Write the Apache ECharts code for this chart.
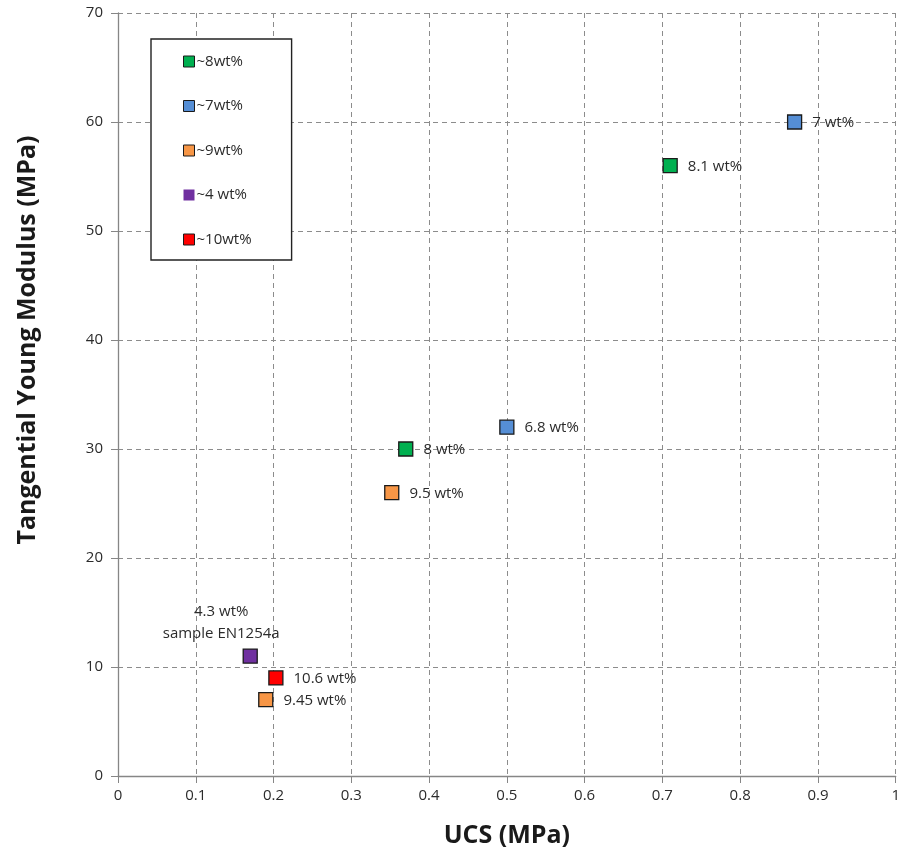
<!DOCTYPE html>
<html>
<head>
<meta charset="utf-8">
<script src="https://cdn.jsdelivr.net/npm/echarts@6/dist/echarts.min.js"></script>
<style>
  html, body { margin: 0; padding: 0; background: #fff; }
  #chart { width: 903px; height: 854px; }
</style>
</head>
<body>
<div id="chart"></div>
<script>
// UCS (MPa) vs tangential Young modulus (MPa), grouped by moisture class
const groupNames = ['~8wt%', '~7wt%', '~9wt%', '~4 wt%', '~10wt%'];
const groupColors = ['#00B050', '#558ED5', '#F79646', '#7030A0', '#FF0000'];

const ucs8 = [0.71, 0.37];
const modulus8 = [56, 30];
const labels8 = ['8.1 wt%', '8 wt%'];

const ucs7 = [0.87, 0.50];
const modulus7 = [60, 32];
const labels7 = ['7 wt%', '6.8 wt%'];

const ucs9 = [0.352, 0.19];
const modulus9 = [26, 7];
const labels9 = ['9.5 wt%', '9.45 wt%'];

const ucs4 = [0.17];
const modulus4 = [11];
const labels4 = ['4.3 wt%\nsample EN1254a'];

const ucs10 = [0.203];
const modulus10 = [9];
const labels10 = ['10.6 wt%'];

const xTicks = ['0', '0.1', '0.2', '0.3', '0.4', '0.5', '0.6', '0.7', '0.8', '0.9', '1'];

const FONT = 'Open Sans';
const TEXT = '#2b2b2b';
const groups = [
  [ucs8, modulus8, labels8],
  [ucs7, modulus7, labels7],
  [ucs9, modulus9, labels9],
  [ucs4, modulus4, labels4],
  [ucs10, modulus10, labels10]
];

const series = groups.map(function (g, i) {
  const isPurple = i === 3;
  return {
    name: groupNames[i],
    type: 'scatter',
    symbol: 'rect',
    symbolSize: 14,
    itemStyle: {
      color: groupColors[i],
      opacity: 1,
      borderColor: '#1a1a1a',
      borderWidth: 1.3
    },
    emphasis: { disabled: true },
    label: {
      show: true,
      position: isPurple ? 'top' : 'right',
      distance: isPurple ? 4 : 10,
      offset: isPurple ? [-29, 0] : [0, 1],
      align: isPurple ? 'center' : 'left',
      color: TEXT,
      fontFamily: FONT,
      fontSize: 15,
      lineHeight: 22,
      formatter: function (p) { return p.data.label; }
    },
    data: g[0].map(function (x, k) {
      return { value: [x, g[1][k]], label: g[2][k] };
    })
  };
});

const chart = echarts.init(document.getElementById('chart'), null, { renderer: 'canvas' });
chart.setOption({
  animation: false,
  backgroundColor: '#fff',
  grid: { left: 118, right: 7, top: 13, bottom: 78, containLabel: false },
  legend: {
    orient: 'vertical',
    left: 151,
    top: 39,
    padding: [15, 40, 13, 32],
    itemGap: 29.5,
    itemWidth: 11,
    itemHeight: 11,
    selectedMode: false,
    borderColor: '#222',
    borderWidth: 1.4,
    backgroundColor: '#fff',
    textStyle: { fontFamily: FONT, fontSize: 15, lineHeight: 14, color: TEXT, padding: [0, 0, 0, -3] },
    data: groupNames.map(function (n, i) {
      return {
        name: n,
        icon: 'rect',
        itemStyle: i === 3 ? { borderWidth: 0 } : { borderColor: '#1a1a1a', borderWidth: 1 }
      };
    })
  },
  xAxis: {
    type: 'value',
    min: 0,
    max: 1,
    interval: 0.1,
    name: 'UCS (MPa)',
    nameLocation: 'middle',
    nameGap: 47,
    nameTextStyle: { fontFamily: FONT, fontSize: 25, fontWeight: 'bold', color: '#1a1a1a' },
    axisLine: { show: true, lineStyle: { color: '#868686', width: 1.3 } },
    axisTick: { show: true, length: 7, lineStyle: { color: '#868686' } },
    axisLabel: {
      fontFamily: FONT, fontSize: 15, color: TEXT, margin: 12,
      formatter: function (v) { return xTicks[Math.round(v * 10)]; }
    },
    splitLine: { show: true, lineStyle: { color: '#8c8c8c', type: [5, 4], width: 1 } }
  },
  yAxis: {
    type: 'value',
    min: 0,
    max: 70,
    interval: 10,
    name: 'Tangential Young Modulus (MPa)',
    nameLocation: 'middle',
    nameGap: 78,
    nameTextStyle: {
      fontFamily: FONT, fontSize: 25, fontWeight: 'bold', color: '#1a1a1a',
      padding: [0, 0, 0, 109]
    },
    axisLine: { show: true, lineStyle: { color: '#868686', width: 1.3 } },
    axisTick: { show: true, length: 7, lineStyle: { color: '#868686' } },
    axisLabel: { fontFamily: FONT, fontSize: 15, color: TEXT, margin: 15 },
    splitLine: { show: true, lineStyle: { color: '#8c8c8c', type: [5, 4], width: 1 } }
  },
  series: series
});
</script>
</body>
</html>
